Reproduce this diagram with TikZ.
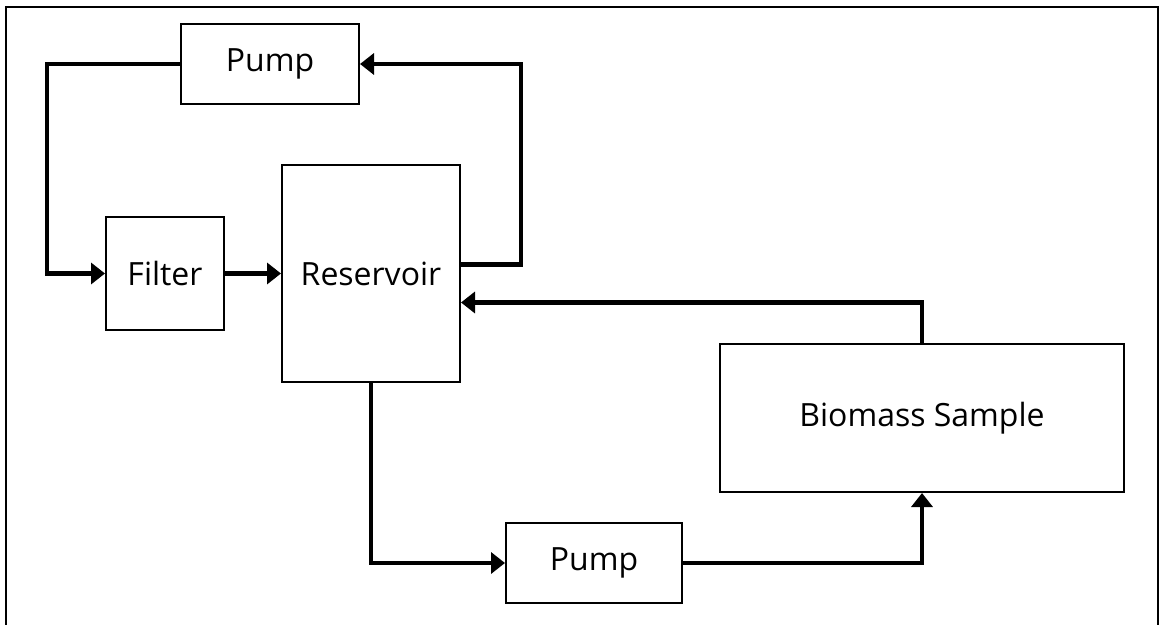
\documentclass[tikz,border=0pt]{standalone}
\usepackage{fontspec}
\setmainfont{Open Sans}
\usepackage{tikz}
\usetikzlibrary{positioning, arrows.meta}

\begin{document}
\begin{tikzpicture}[
  x=0.5pt, y=-0.5pt,
  font=\fontsize{16}{19}\selectfont,
  unit/.style={draw, line width=1pt, fill=white, align=center, inner sep=2pt},
  arr/.style={-{Triangle[length=7pt, width=10.5pt]}, line width=2.2pt}
]
  \useasboundingbox (0,0) rectangle (1160,625);

  % Rahmen
  \draw[line width=1pt] (6,625) -- (6,7) -- (1158,7) -- (1158,625);

  % Anlagenteile
  \node[unit, minimum width=89pt, minimum height=40pt] (pumptop) at (270,64) {Pump};
  \node[unit, minimum width=59pt, minimum height=56.5pt] (filter) at (165,273.5) {Filter};
  \node[unit, minimum width=89pt, minimum height=108pt] (res) at (371,273.5) {Reservoir};
  \node[unit, minimum width=202pt, minimum height=74pt] (bio) at (922,418) {Biomass Sample};
  \node[unit, minimum width=88pt, minimum height=40pt] (pumpbot) at (594,563) {Pump};

  % Kreislauf oben
  \draw[arr] ([yshift=4.5pt]res.east) -- ++(30pt,0) |- (pumptop.east);
  \draw[arr] (pumptop.west) -- ++(-66.5pt,0) |- (filter.west);
  \draw[arr] (filter) -- (res);

  % Kreislauf unten
  \draw[arr] (res.south) |- (pumpbot.west);
  \draw[arr] (pumpbot.east) -| (bio.south);
  \draw[arr] (bio.north) |- ([yshift=-14.5pt]res.east);
\end{tikzpicture}
\end{document}
